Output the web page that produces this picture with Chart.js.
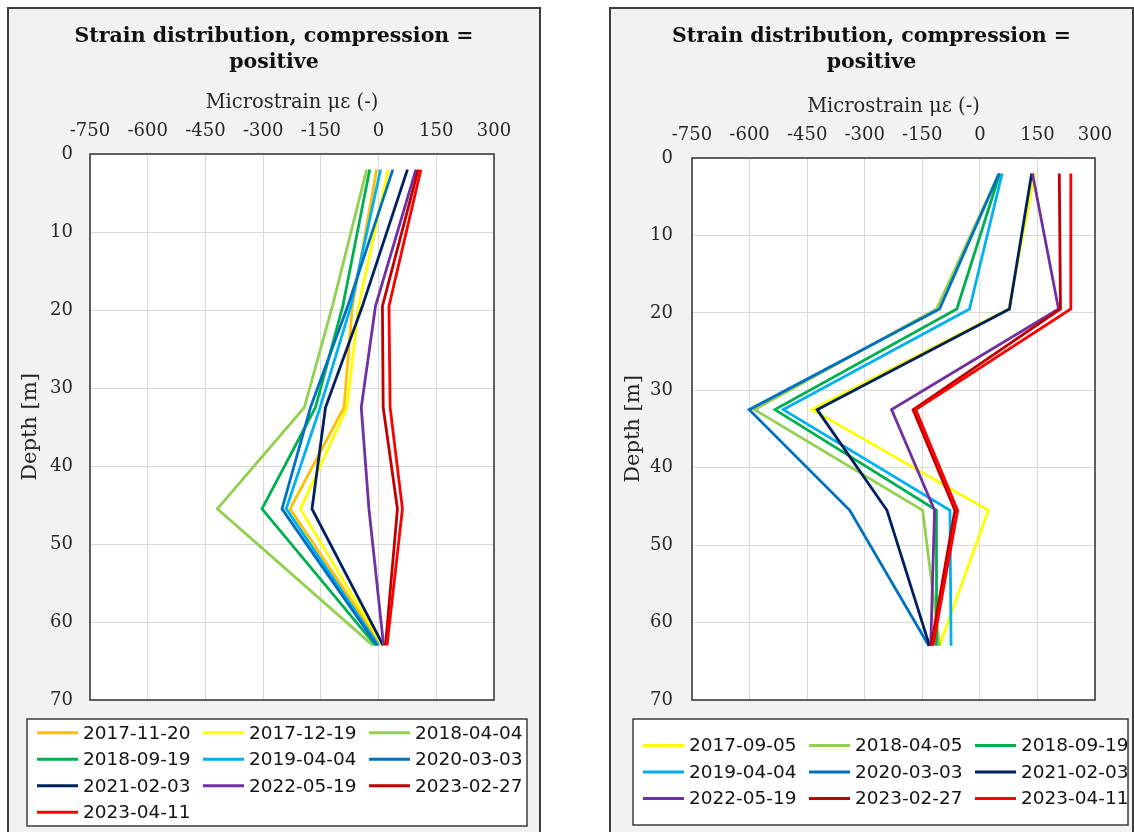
<!DOCTYPE html>
<html>
<head>
<meta charset="utf-8">
<script src="https://cdn.jsdelivr.net/npm/chart.js@4.4.0/dist/chart.umd.min.js"></script>
<style>
  html, body { margin: 0; padding: 0; background: #ffffff; width: 1134px; height: 832px; overflow: hidden; }
  .panel { position: absolute; top: 7px; height: 840px; box-sizing: border-box; border: 2px solid #3d3d3d; background: #f2f2f2; }
  #p1 { left: 7px; width: 534px; }
  #p2 { left: 609px; width: 525px; }
  canvas { position: absolute; top: 0; }
  #c1 { left: 9px; width: 530px; height: 832px; }
  #c2 { left: 611px; width: 521px; height: 832px; }
</style>
</head>
<body>
<div class="panel" id="p1"></div>
<div class="panel" id="p2"></div>
<canvas id="c1" width="530" height="832"></canvas>
<canvas id="c2" width="521" height="832"></canvas>
<script>
// ---------- data ----------
const titleLines = ['Strain distribution, compression =', 'positive'];
const xAxisTitle = 'Microstrain \u03bc\u03b5 (-)';
const yAxisTitle = 'Depth [m]';
const xTicks = [-750, -600, -450, -300, -150, 0, 150, 300];
const yTicks = [0, 10, 20, 30, 40, 50, 60, 70];
const depths = [2, 19.5, 32.5, 45.5, 63];

// left panel
const leftLabels = ['2017-11-20', '2017-12-19', '2018-04-04', '2018-09-19', '2019-04-04',
                    '2020-03-03', '2021-02-03', '2022-05-19', '2023-02-27', '2023-04-11'];
const L_2017_11_20 = [-5, -68, -90, -230, 8];
const L_2017_12_19 = [25, -52, -82, -203, 10];
const L_2018_04_04 = [-31, -120, -193, -419, -15];
const L_2018_09_19 = [-23, -93, -164, -303, -8];
const L_2019_04_04 = [5, -72, -152, -240, 0];
const L_2020_03_03 = [37, -80, -177, -251, -4];
const L_2021_02_03 = [75, -42, -138, -173, 12];
const L_2022_05_19 = [97, -8, -45, -25, 13];
const L_2023_02_27 = [103, 10, 12, 49, 18];
const L_2023_04_11 = [110, 27, 30, 62, 22];
const leftSeries = [L_2017_11_20, L_2017_12_19, L_2018_04_04, L_2018_09_19, L_2019_04_04,
                    L_2020_03_03, L_2021_02_03, L_2022_05_19, L_2023_02_27, L_2023_04_11];

// right panel
const rightLabels = ['2017-09-05', '2018-04-05', '2018-09-19', '2019-04-04', '2020-03-03',
                     '2021-02-03', '2022-05-19', '2023-02-27', '2023-04-11'];
const R_2017_09_05 = [143, 75, -437, 22, -105];
const R_2018_04_05 = [50, -113, -587, -149, -105];
const R_2018_09_19 = [52, -60, -534, -113, -113];
const R_2019_04_04 = [58, -27, -512, -78, -75];
const R_2020_03_03 = [50, -105, -601, -339, -133];
const R_2021_02_03 = [135, 77, -424, -242, -131];
const R_2022_05_19 = [137, 205, -230, -118, -128];
const R_2023_02_27 = [207, 210, -174, -65, -127];
const R_2023_04_11 = [237, 237, -167, -58, -122];
const rightSeries = [R_2017_09_05, R_2018_04_05, R_2018_09_19, R_2019_04_04, R_2020_03_03,
                     R_2021_02_03, R_2022_05_19, R_2023_02_27, R_2023_04_11];

// ---------- styles ----------
const leftColors = ['#FFC000', '#FFFF00', '#92D050', '#00B050', '#00B0F0', '#0070C0', '#002060', '#7030A0', '#C00000', '#FF0000'];
const rightColors = ['#FFFF00', '#92D050', '#00B050', '#00B0F0', '#0070C0', '#002060', '#7030A0', '#C00000', '#FF0000'];
const SERIF = '"DejaVu Serif", "Liberation Serif", serif';
const SANS = '"DejaVu Sans", "Liberation Sans", sans-serif';
const TEXT = '#262626';

const areaPlugin = {
  id: 'plotArea',
  beforeDraw(chart) {
    const { ctx, chartArea: a } = chart;
    ctx.save();
    ctx.fillStyle = '#ffffff';
    ctx.fillRect(a.left, a.top, a.right - a.left, a.bottom - a.top);
    ctx.restore();
  },
  afterDraw(chart) {
    const { ctx, chartArea: a } = chart;
    ctx.save();
    ctx.strokeStyle = '#3d3d3d';
    ctx.lineWidth = 1.6;
    ctx.strokeRect(a.left, a.top, a.right - a.left, a.bottom - a.top);
    ctx.restore();
  }
};

const boxLegendPlugin = {
  id: 'boxLegend',
  afterDraw(chart, args, o) {
    const { ctx } = chart;
    const ds = chart.data.datasets;
    ctx.save();
    ctx.fillStyle = '#ffffff';
    ctx.fillRect(o.left, o.top, o.right - o.left, o.bottom - o.top);
    ctx.strokeStyle = '#3d3d3d';
    ctx.lineWidth = 1.5;
    ctx.strokeRect(o.left, o.top, o.right - o.left, o.bottom - o.top);
    const rows = Math.ceil(ds.length / o.cols);
    const cy = (o.top + o.bottom) / 2;
    ctx.font = o.font;
    ctx.textBaseline = 'middle';
    ctx.textAlign = 'left';
    ds.forEach((d, i) => {
      const col = i % o.cols, row = Math.floor(i / o.cols);
      const y = cy + (row - (rows - 1) / 2) * o.rowH;
      const x0 = o.left + o.lineOffset + col * o.colW;
      ctx.strokeStyle = d.borderColor;
      ctx.lineWidth = 3;
      ctx.beginPath();
      ctx.moveTo(x0, y);
      ctx.lineTo(x0 + o.lineLen, y);
      ctx.stroke();
      ctx.fillStyle = '#141414';
      ctx.fillText(d.label, o.left + o.textOffset + col * o.colW, y + 1);
    });
    ctx.restore();
  }
};

function makeChart(id, labels, series, colors, cfg) {
  const datasets = series.map((vals, i) => ({
    label: labels[i],
    data: depths.map((d, k) => ({ x: vals[k], y: d })),
    borderColor: colors[i],
    backgroundColor: colors[i],
    borderWidth: 2.8,
    pointRadius: 0,
    pointHoverRadius: 0,
    tension: 0,
    fill: false,
    xAxisID: 'x',
    yAxisID: 'y',
    order: series.length - i
  }));
  return new Chart(document.getElementById(id), {
    type: 'line',
    data: { datasets },
    options: {
      responsive: false,
      animation: false,
      events: [],
      layout: { padding: { left: 0, right: 0, top: 0, bottom: 832 - cfg.bottom } },
      plugins: {
        legend: { display: false },
        tooltip: { enabled: false },
        title: {
          display: true,
          text: titleLines,
          color: '#111111',
          font: { family: SERIF, size: 20.5, weight: 'bold', lineHeight: 26 / 20.5 },
          padding: { top: 24, bottom: 0 }
        },
        boxLegend: cfg.legend
      },
      scales: {
        x: {
          type: 'linear', position: 'top', min: -750, max: 300,
          afterBuildTicks: s => { s.ticks = xTicks.map(v => ({ value: v })); },
          afterFit: s => { s.height = cfg.top - 76; },
          grid: { color: '#d9d9d9', lineWidth: 1, drawTicks: false },
          border: { display: false },
          ticks: { font: { family: SERIF, size: 18 }, color: TEXT, padding: cfg.xTickPad, maxRotation: 0, autoSkip: false },
          title: { display: true, text: xAxisTitle, color: TEXT, font: { family: SERIF, size: 19.5 }, padding: { top: cfg.xTitlePad, bottom: 0 } }
        },
        y: {
          type: 'linear', position: 'left', reverse: true, min: 0, max: 70,
          afterBuildTicks: s => { s.ticks = yTicks.map(v => ({ value: v })); },
          afterFit: s => { s.width = cfg.left; },
          grid: { color: '#d9d9d9', lineWidth: 1, drawTicks: false },
          border: { display: false },
          ticks: { font: { family: SERIF, size: 18 }, color: TEXT, padding: cfg.yTickPad, autoSkip: false },
          title: { display: true, text: yAxisTitle, color: TEXT, font: { family: SERIF, size: 21 }, padding: { top: cfg.yTitlePad, bottom: 0 } }
        },
        y2: {
          type: 'linear', position: 'right', display: true,
          grid: { display: false }, border: { display: false }, ticks: { display: false },
          afterFit: s => { s.width = cfg.right; }
        }
      }
    },
    plugins: [areaPlugin, boxLegendPlugin]
  });
}

const legendCommon = { cols: 3, rowH: 26.5, colW: 166, lineOffset: 10, lineLen: 41, textOffset: 56, font: '18.5px ' + SANS };

makeChart('c1', leftLabels, leftSeries, leftColors, {
  top: 154, left: 81, right: 45, bottom: 700,
  xTickPad: 12, xTitlePad: 15, yTickPad: 17, yTitlePad: 9,
  legend: Object.assign({ left: 18, right: 518, top: 719, bottom: 826 }, legendCommon)
});

makeChart('c2', rightLabels, rightSeries, rightColors, {
  top: 158, left: 81, right: 37, bottom: 700,
  xTickPad: 12, xTitlePad: 19, yTickPad: 19, yTitlePad: 10,
  legend: Object.assign({ left: 22, right: 517, top: 719, bottom: 825 }, legendCommon)
});
</script>
</body>
</html>
